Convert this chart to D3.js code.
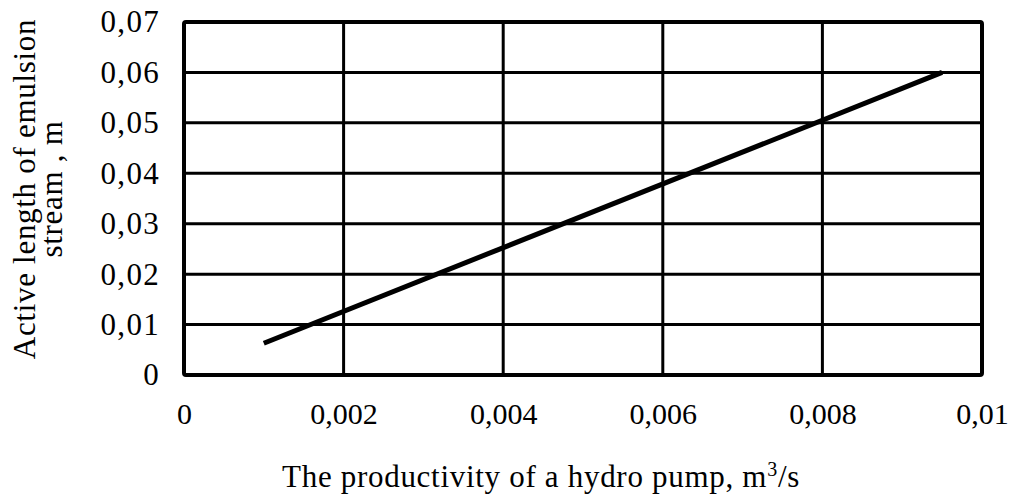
<!DOCTYPE html>
<html>
<head>
<meta charset="utf-8">
<script src="https://cdn.jsdelivr.net/npm/d3@7"></script>
<style>
  body { margin: 0; background: #fff; }
  svg text { font-family: "Liberation Serif", "Times New Roman", serif; fill: #000; }
</style>
</head>
<body>
<div id="chart"></div>
<script>
// data
const flowRate = [0.001, 0.0095];        // m3/s
const streamLength = [0.0063, 0.06];     // m
const xTicks = [0, 0.002, 0.004, 0.006, 0.008, 0.01];
const yTicks = [0, 0.01, 0.02, 0.03, 0.04, 0.05, 0.06, 0.07];

const width = 1010, height = 502;
const marginLeft = 184, marginRight = 28, marginTop = 22, marginBottom = 127;

const svg = d3.select("#chart").append("svg")
	.attr("width", width).attr("height", height);

const x = d3.scaleLinear().domain([0, 0.01]).range([marginLeft, width - marginRight]);
const y = d3.scaleLinear().domain([0, 0.07]).range([height - marginBottom, marginTop]);

const fmt = d => d === 0 ? "0" : String(+d.toFixed(3)).replace(".", ",");

// grid
svg.append("g").selectAll("line").data(xTicks.slice(1, -1)).join("line")
	.attr("x1", d => x(d)).attr("x2", d => x(d))
	.attr("y1", y(0)).attr("y2", y(0.07))
	.attr("stroke", "#000").attr("stroke-width", 3);
svg.append("g").selectAll("line").data(yTicks.slice(1, -1)).join("line")
	.attr("x1", x(0)).attr("x2", x(0.01))
	.attr("y1", d => y(d)).attr("y2", d => y(d))
	.attr("stroke", "#000").attr("stroke-width", 3);

// frame
svg.append("rect")
	.attr("x", x(0)).attr("y", y(0.07))
	.attr("width", x(0.01) - x(0)).attr("height", y(0) - y(0.07))
	.attr("fill", "none").attr("stroke", "#000").attr("stroke-width", 4)
	.attr("rx", 2);

// axes (labels only)
const gx = svg.append("g")
	.attr("transform", `translate(0,${y(0)})`)
	.call(d3.axisBottom(x).tickValues(xTicks).tickFormat(fmt).tickSize(0).tickPadding(28));
const gy = svg.append("g")
	.attr("transform", `translate(${x(0)},0)`)
	.call(d3.axisLeft(y).tickValues(yTicks).tickFormat(fmt).tickSize(0).tickPadding(24));
[gx, gy].forEach(g => {
	g.select(".domain").remove();
	g.selectAll("text")
		.attr("font-size", 30)
		.attr("font-family", "Liberation Serif");
});
gy.selectAll("text").attr("font-size", 31).attr("letter-spacing", 1.3);

// data line
const line = d3.line().x(d => x(d[0])).y(d => y(d[1]));
svg.append("path")
	.datum(d3.zip(flowRate, streamLength))
	.attr("d", line)
	.attr("fill", "none").attr("stroke", "#000").attr("stroke-width", 5);

// axis titles
const xt = svg.append("text")
	.attr("x", 541).attr("y", 487)
	.attr("text-anchor", "middle").attr("font-size", 31)
	.attr("letter-spacing", 0.7);
xt.append("tspan").text("The productivity of a hydro pump, m");
xt.append("tspan").attr("font-size", 20).attr("dy", -11).text("3");
xt.append("tspan").attr("dy", 11).text("/s");

const yt = svg.append("text")
	.attr("transform", "translate(0,189) rotate(-90)")
	.attr("text-anchor", "middle").attr("font-size", 31)
	.attr("letter-spacing", 0.7);
yt.append("tspan").attr("x", 0).attr("y", 35).text("Active length of emulsion");
yt.append("tspan").attr("x", 0).attr("y", 62).text("stream , m");
</script>
</body>
</html>
